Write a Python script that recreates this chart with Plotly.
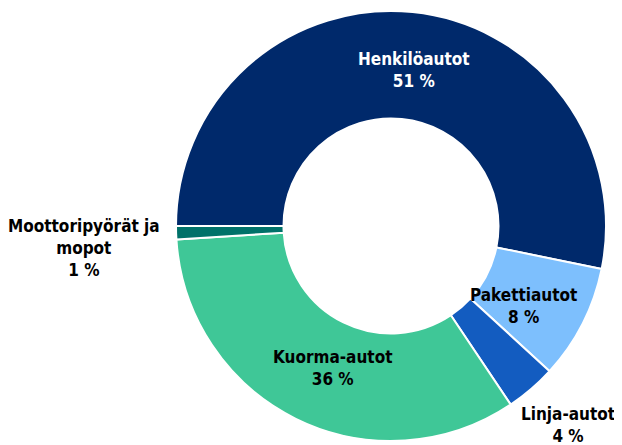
import plotly.graph_objects as go

# vehicle groups, clockwise from 9 o'clock
categories = ["Henkilöautot", "Pakettiautot", "Linja-autot", "Kuorma-autot", "Moottoripyörät ja mopot"]
# slice sizes as drawn in the picture
values = [53.2, 8.6, 3.8, 33.4, 1.0]
# percentages printed on the labels
pct_labels = ["51 %", "8 %", "4 %", "36 %", "1 %"]
label_names = ["Henkilöautot", "Pakettiautot", "Linja-autot", "Kuorma-autot", "Moottoripyörät ja<br>mopot"]

colors = ["#00296b", "#7dbffd", "#135cc0", "#3fc797", "#007169"]
label_colors = ["white", "black", "black", "black", "black"]

W, H = 622, 445
OFF = 8  # page body margin pushes the plot 8px right/down


def px(x, y):
    # screen pixel -> paper coords
    return (x - OFF) / W, 1 - (y - OFF) / H


# label centres, screen pixels
label_px = [(414, 70), (523, 306), (568, 425), (332, 368), (84, 248)]

FONT = "DejaVu Sans, sans-serif"

x0, y0 = px(176, 441)
x1, y1 = px(606, 11)

fig = go.Figure(
    go.Pie(
        labels=categories,
        values=values,
        hole=0.5,
        sort=False,
        direction="clockwise",
        rotation=270,
        textinfo="none",
        hoverinfo="label+percent",
        marker=dict(colors=colors, line=dict(color="white", width=2)),
        domain=dict(x=[x0, x1], y=[y0, y1]),
        showlegend=False,
    )
)

for name, pct, col, (lx, ly) in zip(label_names, pct_labels, label_colors, label_px):
    ax, ay = px(lx, ly)
    fig.add_annotation(
        x=ax, y=ay, xref="paper", yref="paper",
        xanchor="center", yanchor="middle",
        text=f"<span style='font-stretch:condensed'><b>{name}<br>{pct}</b></span>",
        showarrow=False,
        align="center",
        borderpad=0,
        font=dict(family=FONT, size=17, color=col),
    )

fig.update_layout(
    width=W,
    height=H,
    margin=dict(l=0, r=0, t=0, b=0),
    paper_bgcolor="white",
    plot_bgcolor="white",
)

fig.write_html("out.html")
